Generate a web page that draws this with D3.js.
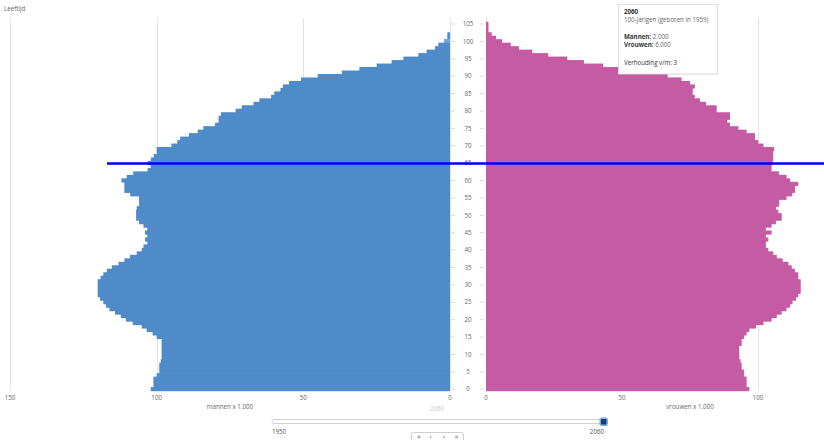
<!DOCTYPE html>
<html>
<head>
<meta charset="utf-8">
<script src="https://cdn.jsdelivr.net/npm/d3@7"></script>
<style>
  html, body { margin: 0; padding: 0; background: #fff; }
  svg { display: block; font-family: "Open Sans", "DejaVu Sans", sans-serif; }
</style>
</head>
<body>
<svg id="chart" width="824" height="440"></svg>
<script>
// ---- data (x 1.000 persons, year 2060) ----
const ages = d3.range(0, 106);
const men = [
  102, 101.1, 101.1, 101.1, 100, 99.1, 99.1, 99.1, 98.6, 98.3,
  98.3, 98.3, 98.3, 98.3, 98.3, 100, 101.4, 103.4, 105.1, 108.2,
  110.5, 112.2, 114.2, 116.1, 117.3, 118.2, 119.3, 120.1, 120.1, 120.1,
  120.1, 120.1, 119.1, 118.2, 117, 115.3, 113, 111, 109.1, 106.8,
  105.1, 104.5, 103.2, 104, 103.2, 104, 103.2, 104.5, 106, 107,
  107, 107, 106.8, 106, 106, 106, 109, 111, 111, 111,
  112, 110.2, 108, 103.1, 102, 103.1, 102, 101, 100, 100,
  95, 93, 92, 89, 86, 84.1, 80.1, 78.9, 78.9, 78.1,
  73.1, 71, 67, 65, 61, 59.9, 57.8, 57, 54.9, 50.8,
  45.1, 36.9, 30.9, 25, 19.9, 15.9, 10.8, 8, 5.1, 4,
  2, 0.9, 0.9, 0, 0, 0
];
const women = [
  96.8, 95.8, 95.8, 95.8, 94.9, 94.9, 94, 94, 93.6, 93.1,
  93.1, 93.1, 93.1, 94, 94, 94.9, 95.8, 96.8, 99.3, 102,
  105, 106.9, 108.7, 110.5, 111.8, 112.7, 114, 114.8, 115.7, 115.7,
  115.7, 115.7, 114.8, 114.8, 113.6, 112.4, 111.2, 109.1, 106.9, 105.6,
  103.8, 102.9, 102.9, 103.8, 102.9, 105, 102.9, 105, 106.6, 108.7,
  108.7, 107.5, 106.6, 107.8, 107.8, 110.5, 112.6, 113.6, 113.6, 114.8,
  111.8, 110.5, 107.7, 105, 105, 105.4, 105.6, 105.6, 105.6, 105.9,
  102, 100.1, 98.9, 98.9, 95.8, 92.8, 89.7, 88.7, 89.7, 89.7,
  84.8, 84.8, 80.9, 78.7, 76.8, 76, 76, 76.8, 75, 71.9,
  66.8, 60, 52, 43.1, 36, 29.9, 22.9, 17, 12.1, 9.1,
  5.9, 3.7, 2.1, 0.9, 0.9, 0.9
];
const xTicks = [0, 50, 100, 150];
const ageTicks = d3.range(0, 106, 5);
const highlightAge = 100;
const markerAge = 65;
const year = "2060";
const yearStart = "1950";
const yearEnd = "2060";
const tooltipLines = [
  {label: "2060", value: "", bold: true},
  {label: "", value: "100-jarigen (geboren in 1959)"},
  {label: "Mannen: ", value: "2.000", bold: true},
  {label: "Vrouwen: ", value: "6.000", bold: true},
  {label: "Verhouding v/m: 3", value: "", bold: false}
];

// ---- scales ----
const W = 824;
const svg = d3.select("#chart");
const yAge = d3.scaleLinear().domain([-0.5, 105.5]).range([390.5, 21.8]);
const xL = d3.scaleLinear().domain([0, 150]).range([450, 10]);
const xR = d3.scaleLinear().domain([0, 150]).range([486, 894]);
const gridTop = 18, gridBottom = 390;

const textCol = "#666";
const fs = "6.2px";

// Leeftijd label
svg.append("text").attr("x", 4).attr("y", 10.5).attr("font-size", fs)
  .attr("fill", textCol).text("Leeftijd");

// grid lines
const grid = svg.append("g").attr("stroke", "#e3e3e3").attr("stroke-width", 1);
xTicks.forEach(t => {
  grid.append("line").attr("x1", Math.round(xL(t)) + 0.5).attr("x2", Math.round(xL(t)) + 0.5)
    .attr("y1", gridTop).attr("y2", gridBottom);
  if (xR(t) < W)
    grid.append("line").attr("x1", Math.round(xR(t)) + 0.5).attr("x2", Math.round(xR(t)) + 0.5)
      .attr("y1", gridTop).attr("y2", gridBottom);
});

// bars (slight overlap to avoid seams)
const bh = Math.abs(yAge(1) - yAge(0));
svg.append("g").selectAll("rect").data(ages).join("rect")
  .attr("x", a => xL(men[a]))
  .attr("y", a => yAge(a + 0.5))
  .attr("width", a => xL(0) - xL(men[a]))
  .attr("height", bh + 0.7)
  .attr("fill", "#4f8bc9");
// highlighted bar drawn on top
svg.append("rect")
  .attr("x", xL(men[highlightAge]))
  .attr("y", yAge(highlightAge + 0.5))
  .attr("width", xL(0) - xL(men[highlightAge]))
  .attr("height", bh)
  .attr("fill", "#6ea8e4");

svg.append("g").selectAll("rect").data(ages).join("rect")
  .attr("x", xR(0))
  .attr("y", a => yAge(a + 0.5))
  .attr("width", a => xR(women[a]) - xR(0))
  .attr("height", bh + 0.7)
  .attr("fill", "#c45ba3");

// age axis in middle
const ageG = svg.append("g");
ageTicks.forEach(t => {
  const y = yAge(t) + 0.5;
  ageG.append("line").attr("x1", 451).attr("x2", 455).attr("y1", y).attr("y2", y)
    .attr("stroke", "#d8d8d8");
  ageG.append("line").attr("x1", 480).attr("x2", 484).attr("y1", y).attr("y2", y)
    .attr("stroke", "#d8d8d8");
  ageG.append("text").attr("x", 468).attr("y", y).attr("dy", "0.35em")
    .attr("text-anchor", "middle").attr("font-size", fs).attr("fill", textCol).text(t);
});

// bottom axis labels
xTicks.forEach(t => {
  svg.append("text").attr("x", xL(t)).attr("y", 398.3).attr("dy", "0.35em")
    .attr("text-anchor", "middle").attr("font-size", fs).attr("fill", textCol).text(t);
  if (xR(t) < W - 10)
    svg.append("text").attr("x", xR(t)).attr("y", 398.3).attr("dy", "0.35em")
      .attr("text-anchor", "middle").attr("font-size", fs).attr("fill", textCol).text(t);
});
svg.append("text").attr("x", (xL(0) + xL(150)) / 2).attr("y", 406.7).attr("dy", "0.35em")
  .attr("text-anchor", "middle").attr("font-size", fs).attr("fill", textCol).text("mannen x 1.000");
svg.append("text").attr("x", (xR(0) + xR(150)) / 2).attr("y", 406.7).attr("dy", "0.35em")
  .attr("text-anchor", "middle").attr("font-size", fs).attr("fill", textCol).text("vrouwen x 1.000");
svg.append("text").attr("x", 437).attr("y", 409).attr("dy", "0.35em")
  .attr("text-anchor", "middle").attr("font-size", fs).attr("fill", "#c8c8c8").text(year);

// marker line at age 65
svg.append("line").attr("x1", 107).attr("x2", W)
  .attr("y1", yAge(markerAge) + 0.8).attr("y2", yAge(markerAge) + 0.8)
  .attr("stroke", "#0000f5").attr("stroke-width", 2.6);

// tooltip
const tt = svg.append("g").attr("transform", "translate(618.5,4.5)");
tt.append("rect").attr("x", 1).attr("y", 1).attr("width", 99).attr("height", 69.5)
  .attr("fill", "rgba(0,0,0,0.04)");
tt.append("rect").attr("width", 99).attr("height", 69.5).attr("fill", "#fff")
  .attr("stroke", "#dcdcdc").attr("stroke-width", 1);
const ttY = [9.3, 17.6, 34.2, 42.8, 60.4];
tooltipLines.forEach((l, i) => {
  const t = tt.append("text").attr("x", 5.5).attr("y", ttY[i]).attr("font-size", fs);
  if (l.label) t.append("tspan").attr("fill", "#333")
    .attr("font-weight", l.bold ? "bold" : "normal").text(l.label);
  if (l.value) t.append("tspan").attr("fill", "#666").text(l.value);
});

// slider
svg.append("rect").attr("x", 272).attr("y", 419.5).attr("width", 332).attr("height", 4)
  .attr("rx", 2).attr("fill", "#fff").attr("stroke", "#d0d0d0");
svg.append("rect").attr("x", 600.2).attr("y", 418.3).attr("width", 7).attr("height", 7)
  .attr("rx", 1.5).attr("fill", "#1d3c75").attr("stroke", "#79aee9").attr("stroke-width", 1.6);
svg.append("text").attr("x", 272).attr("y", 431.7).attr("dy", "0.35em")
  .attr("font-size", fs).attr("fill", "#555").text(yearStart);
svg.append("text").attr("x", 604).attr("y", 431.7).attr("dy", "0.35em")
  .attr("text-anchor", "end").attr("font-size", fs).attr("fill", "#555").text(yearEnd);

// buttons
svg.append("rect").attr("x", 411.5).attr("y", 432.5).attr("width", 52).attr("height", 14)
  .attr("rx", 2).attr("fill", "#fff").attr("stroke", "#cfcfcf");
const btns = ["«", "‹", "›", "»"];
const btnX = [419, 430.5, 444, 456.5];
btns.forEach((b, i) => {
  svg.append("text").attr("x", btnX[i]).attr("y", 439).attr("text-anchor", "middle")
    .attr("font-size", "7px").attr("fill", "#555").text(b);
});
</script>
</body>
</html>
